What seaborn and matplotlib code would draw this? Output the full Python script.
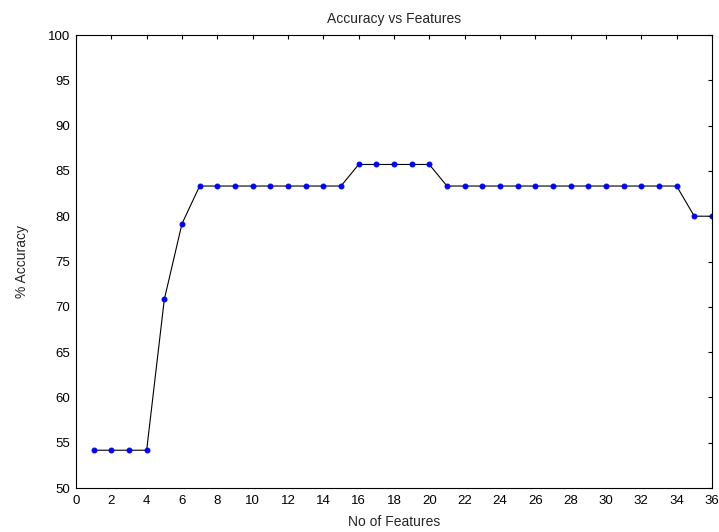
import matplotlib
matplotlib.use("Agg")
import matplotlib.pyplot as plt
import seaborn as sns
import numpy as np
import pandas as pd

# dati
n_features = list(range(1, 37))
accuracy = [54.17, 54.17, 54.17, 54.17, 70.83, 79.17,
            83.33, 83.33, 83.33, 83.33, 83.33, 83.33, 83.33, 83.33, 83.33,
            85.71, 85.71, 85.71, 85.71, 85.71,
            83.33, 83.33, 83.33, 83.33, 83.33, 83.33, 83.33, 83.33, 83.33,
            83.33, 83.33, 83.33, 83.33, 83.33,
            80.0, 80.0]

df = pd.DataFrame({"features": n_features, "acc": accuracy})

sns.set_style("white")
plt.rcParams['font.family'] = ['Liberation Sans', 'DejaVu Sans']

fig = plt.figure(figsize=(7.19, 5.32), dpi=100)
ax = fig.add_axes([0.1057, 0.0827, 0.8845, 0.8515])

sns.lineplot(data=df, x="features", y="acc", color="black", linewidth=0.8,
             marker="o", markersize=3.5, markerfacecolor="#0000ff",
             markeredgecolor="#0000ff", ax=ax)

ax.set_xlim(0, 36)
ax.set_ylim(50, 100)
ax.set_xticks(np.arange(0, 37, 2))
ax.set_yticks(np.arange(50, 101, 5))
ax.tick_params(direction="in", top=True, right=True, length=3, width=0.8,
               labelsize=9.5, colors="black")
ax.tick_params(axis="x", pad=5)
ax.tick_params(axis="y", pad=4)
for s in ax.spines.values():
    s.set_color("black")
    s.set_linewidth(0.8)

ax.set_title("Accuracy vs Features", fontsize=10, pad=9)
ax.set_xlabel("No of Features", fontsize=10, labelpad=6)
ax.set_ylabel("% Accuracy", fontsize=10, labelpad=14)

plt.savefig("out.png", dpi=100)
